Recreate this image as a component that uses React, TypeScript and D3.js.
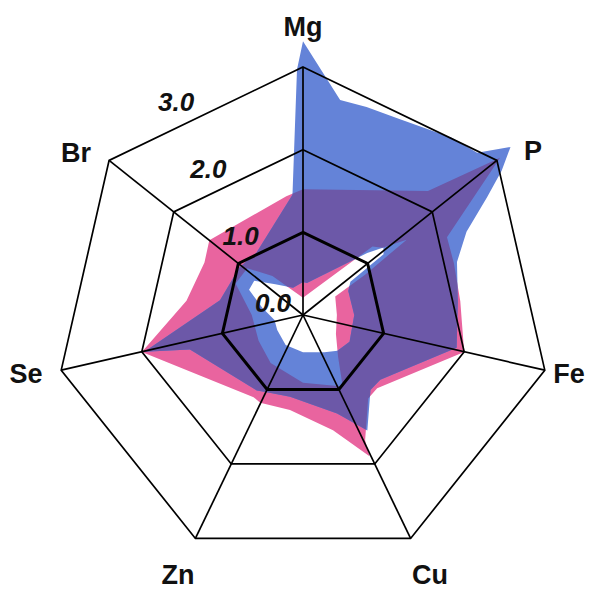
import React from 'react';
import * as d3 from 'd3';

// Axes of the radar chart (clockwise from the top)
const axes = ['Mg', 'P', 'Fe', 'Cu', 'Zn', 'Se', 'Br'];
const ringValues = [1, 2, 3];
const tickValues = [0, 1, 2, 3];
const tickLabels = ['0.0', '1.0', '2.0', '3.0'];

// Series bands: [angle in degrees clockwise from Mg, value]
const blueOuter: [number, number][] = [
  [0, 3.31], [9.8, 2.64], [17, 2.63], [26, 2.64], [40, 2.8], [47, 2.88], [51, 3.23], [54, 2.97],
  [57.3, 2.65], [63, 2.22], [71, 1.97], [85, 1.88], [102, 1.9], [130, 1.22], [138, 1.22],
  [150.9, 1.6], [160.9, 1.26], [189, 1.0], [205, 1.03], [211.5, 1.07], [253, 1.43], [257, 1.97],
  [280, 1.02], [307, 0.96], [323, 0.94], [355, 1.46], [358.6, 2.97],
];
const blueInner: [number, number][] = [
  [0, 0.4], [7, 0.39], [46, 1.08], [50, 1.27], [53, 1.22], [55, 0.7], [62, 0.62], [90, 0.62],
  [120, 0.65], [136, 0.6], [150, 0.52], [180, 0.45], [210, 0.42], [240, 0.36], [260, 0.35],
  [280, 0.5], [295, 0.72], [305, 0.72], [318, 0.5], [340, 0.35],
];
const pinkOuter: [number, number][] = [
  [0, 1.52], [45.2, 2.13], [51.4, 3.05], [61.6, 1.98], [71, 1.93], [85, 1.91], [102.9, 2.0],
  [134.6, 1.26], [142, 1.28], [153.6, 1.69], [154.8, 1.89], [165.4, 1.44], [187.8, 1.16],
  [206, 1.18], [211, 1.16], [257.1, 2.0], [277, 1.42], [298, 1.35], [308.6, 1.45], [352, 1.45],
];
const pinkInner: [number, number][] = [
  [0, 0.21], [45.4, 1.18], [49.7, 1.26], [54, 1.55], [57, 0.9], [60, 0.45], [90, 0.41],
  [120, 0.46], [140, 0.66], [151, 0.99], [180, 0.82], [214, 0.7], [240, 0.62], [270, 0.62],
  [295, 0.9], [310, 0.88], [322, 0.6], [340, 0.3],
];

const W = 594;
const H = 591;
const CX = 303;
const CY = 315;
const BLUE = '#6483d8';
const PINK = '#e9649f';
const PURPLE = '#6c58a8';
const FONT = '"Liberation Sans", Arial, Helvetica, sans-serif';

const rScale = d3.scaleLinear().domain([0, 3]).range([0, 248]);
const degScale = d3.scaleLinear().domain([0, 360]).range([0, 2 * Math.PI]);
const axisScale = d3.scaleLinear().domain([0, axes.length]).range([0, 2 * Math.PI]);

const bandLine = d3
  .lineRadial<[number, number]>()
  .angle((d) => degScale(d[0]))
  .radius((d) => rScale(d[1]))
  .curve(d3.curveLinearClosed);

const ringLine = d3
  .lineRadial<number>()
  .angle((_, i) => axisScale(i))
  .radius((d) => rScale(d))
  .curve(d3.curveLinearClosed);

// label layout nudges (pixels)
const labelNudge: Record<string, [number, number]> = {
  Mg: [0, -9], P: [11, 9.5], Fe: [-7, -4], Cu: [5.5, 7], Zn: [-3.5, 7], Se: [-4, -4], Br: [-8, 11.5],
};

export default function App() {
  const bluePath = (bandLine(blueOuter) || '') + (bandLine(blueInner) || '');
  const pinkPath = (bandLine(pinkOuter) || '') + (bandLine(pinkInner) || '');
  const bis = -Math.PI / axes.length;
  const axisFs = 27;
  const tickFs = 26;
  return (
    <svg width={W} height={H} style={{ position: 'absolute', left: 0, top: 0, background: '#fff' }}>
      <defs>
        <clipPath id="blueClip">
          <path d={bluePath} clipRule="evenodd" transform={`translate(${CX},${CY})`} />
        </clipPath>
      </defs>
      <rect width={W} height={H} fill="#fff" />
      <g transform={`translate(${CX},${CY})`}>
        <path d={pinkPath} fill={PINK} fillRule="evenodd" />
        <path d={bluePath} fill={BLUE} fillRule="evenodd" />
      </g>
      <g clipPath="url(#blueClip)">
        <g transform={`translate(${CX},${CY})`}>
          <path d={pinkPath} fill={PURPLE} fillRule="evenodd" />
        </g>
      </g>
      <g transform={`translate(${CX},${CY})`}>
        {ringValues.map((v) => (
          <path
            key={v}
            d={ringLine(axes.map(() => v)) || ''}
            fill="none"
            stroke="#000"
            strokeWidth={v === 1 ? 3 : 1.7}
            strokeLinejoin="miter"
          />
        ))}
        {axes.map((a, i) => {
          const [x, y] = d3.pointRadial(axisScale(i), rScale(3));
          return <line key={a} x1={0} y1={0} x2={x} y2={y} stroke="#000" strokeWidth={1.7} />;
        })}
        {axes.map((a, i) => {
          const [x, y] = d3.pointRadial(axisScale(i), 280);
          const [nx, ny] = labelNudge[a];
          return (
            <text
              key={a}
              x={x + nx}
              y={y + ny + 0.36 * axisFs}
              textAnchor="middle"
              fontFamily={FONT}
              fontWeight="bold"
              fontSize={axisFs}
              fill="#111"
            >
              {a}
            </text>
          );
        })}
        {tickValues.map((v, i) => {
          const [x, y] = d3.pointRadial(bis, rScale(v) * Math.cos(Math.PI / axes.length));
          return (
            <text
              key={v}
              x={x - 30}
              y={y - 12 + 0.36 * tickFs}
              textAnchor="middle"
              fontFamily={FONT}
              fontWeight="bold"
              fontStyle="italic"
              fontSize={tickFs}
              fill="#111"
            >
              {tickLabels[i]}
            </text>
          );
        })}
      </g>
    </svg>
  );
}
